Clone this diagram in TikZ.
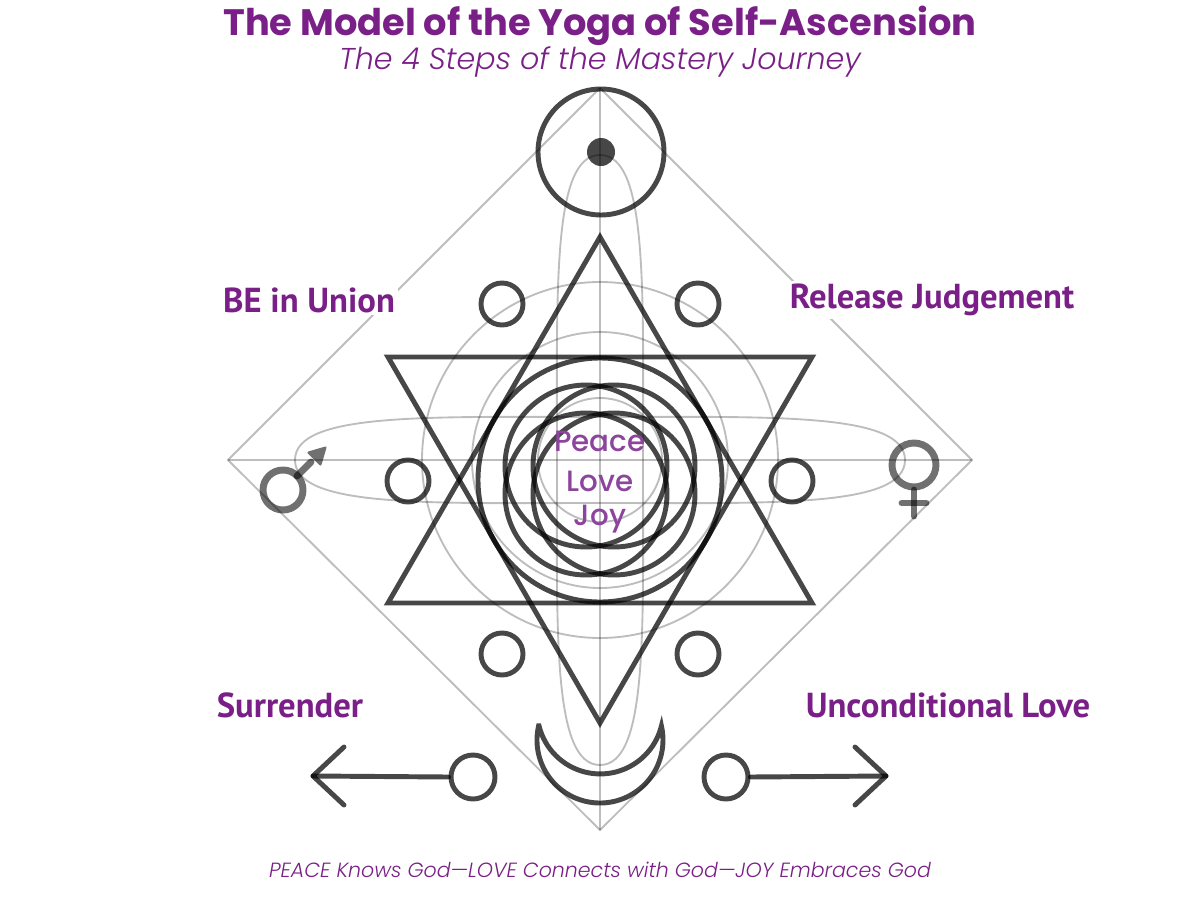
\documentclass[tikz,border=0pt]{standalone}
\usepackage{fontspec}
\newfontfamily\geofont{Poppins}
\newfontfamily\geolight{Poppins Light}[ItalicFont={Poppins Light Italic}]
\newfontfamily\geomid{Poppins Medium}
\newfontfamily\labfont{PT Sans}
\usetikzlibrary{positioning}
\definecolor{plum}{HTML}{7A1F87}
\definecolor{plumsoft}{HTML}{8C449C}
\tikzset{
  guide/.style={draw=black, draw opacity=0.26, line width=1.4pt},
  sacred/.style={draw=black, draw opacity=0.72, line width=3.7pt},
  ring/.style={sacred, circle, minimum size=31.5pt, inner sep=0pt},
  steplabel/.style={text=plum, fill=white, inner sep=2pt,
    font=\labfont\bfseries\fontsize{26}{30}\selectfont},
  sign/.style={draw=black, draw opacity=0.56, line width=5.2pt, line cap=round},
}
\begin{document}
\begin{tikzpicture}[x=0.75pt, y=-0.75pt]
  \useasboundingbox (0,0) rectangle (1200,900);

  % Hilfslinien
  \draw[guide] (600,88) -- (972,460) -- (600,830) -- (228,460) -- cycle;
  \draw[guide] (600,88) -- (600,830);
  \draw[guide] (228,460) -- (972,460);
  \foreach \r in {62,128,178}
    \draw[guide] (600,460) circle (\r);
  \foreach \ang in {0,90}
    \draw[guide, rotate around={\ang:(600,460)}] (600,155)
      .. controls (648,155) and (643,290) .. (643,460)
      .. controls (643,630) and (648,765) .. (600,765)
      .. controls (552,765) and (557,630) .. (557,460)
      .. controls (557,290) and (552,155) .. (600,155) -- cycle;

  % Sonne oben
  \node[sacred, circle, minimum size=94.5pt, inner sep=0pt] (sun) at (601,152) {};
  \fill[black, fill opacity=0.72] (sun.center) circle (14);

  % Hexagramm
  \draw[sacred] (600,237) -- (812,603) -- (388,603) -- cycle;
  \draw[sacred] (388,357) -- (812,357) -- (600,723) -- cycle;

  % Kreise in der Mitte
  \draw[sacred] (600,480) circle (122);
  \foreach \dx/\dy in {-14/-14, 14/-14, -14/14, 14/14}
    \draw[sacred] (600+\dx,480+\dy) circle (81);

  % kleine Kreise
  \node[ring] (ul) at (502,304) {};
  \node[ring] (ur) at (698,304) {};
  \node[ring] (ml) at (408,481) {};
  \node[ring] (mr) at (792,481) {};
  \node[ring] (ll) at (502,654) {};
  \node[ring] (lr) at (698,654) {};

  % Mond
  \draw[sacred] (600,740) ++(192.9:63) arc[start angle=192.9, end angle=-12.9, radius=63]
    arc[start angle=13.8, end angle=166.2, radius=63] -- cycle;

  % Pfeile unten
  \node[ring, minimum size=33pt] (ringL) at (473,777) {};
  \node[ring, minimum size=33pt] (ringR) at (726,777) {};
  \coordinate (tipL) at (313,776);
  \coordinate (tipR) at (886,776);
  \draw[sacred, line cap=round] (ringL.west) -- (tipL);
  \draw[sacred, line cap=round, line join=round] (tipL) ++(31,-29) -- (tipL) -- ++(31,29);
  \draw[sacred, line cap=round] (ringR.east) -- (tipR);
  \draw[sacred, line cap=round, line join=round] (tipR) ++(-31,-29) -- (tipR) -- ++(-31,29);

  % Mars und Venus
  \draw[sign] (283,490) circle (20);
  \draw[sign] (297,476) -- (311,462);
  \fill[black, fill opacity=0.56, rounded corners=1.5pt] (327,446) -- (306.5,452) -- (321,466.5) -- cycle;
  \draw[sign] (914,465) circle (22);
  \draw[sign] (914,490) -- (914,516);
  \draw[sign] (902,503) -- (926,503);

  % Texte
  \node[text=plum, font=\geofont\bfseries\fontsize{27.6}{32}\selectfont] (title) at (600,26)
    {The Model of the Yoga of Self-Ascension};
  \node[text=plum, font=\geolight\itshape\fontsize{22.6}{26}\selectfont] (subtitle) at (600,62)
    {The 4 Steps of the Mastery Journey};
  \node[steplabel] (union) at (309,300) {BE in Union};
  \node[steplabel] (release) at (932,300) {Release Judgement};
  \node[steplabel] (surrender) at (290,705) {Surrender};
  \node[steplabel] (uncond) at (948,705) {Unconditional Love};
  \node[text=plumsoft, font=\geomid\fontsize{22}{26}\selectfont] (peace) at (600,441) {Peace};
  \node[text=plumsoft, font=\geomid\fontsize{22}{26}\selectfont] (love) at (600,481) {Love};
  \node[text=plumsoft, font=\geomid\fontsize{22}{26}\selectfont] (joy) at (600,519) {Joy};
  \node[text=plum, font=\geolight\itshape\fontsize{15.4}{18}\selectfont] (motto) at (600,870)
    {PEACE Knows God—LOVE Connects with God—JOY Embraces God};
\end{tikzpicture}
\end{document}
